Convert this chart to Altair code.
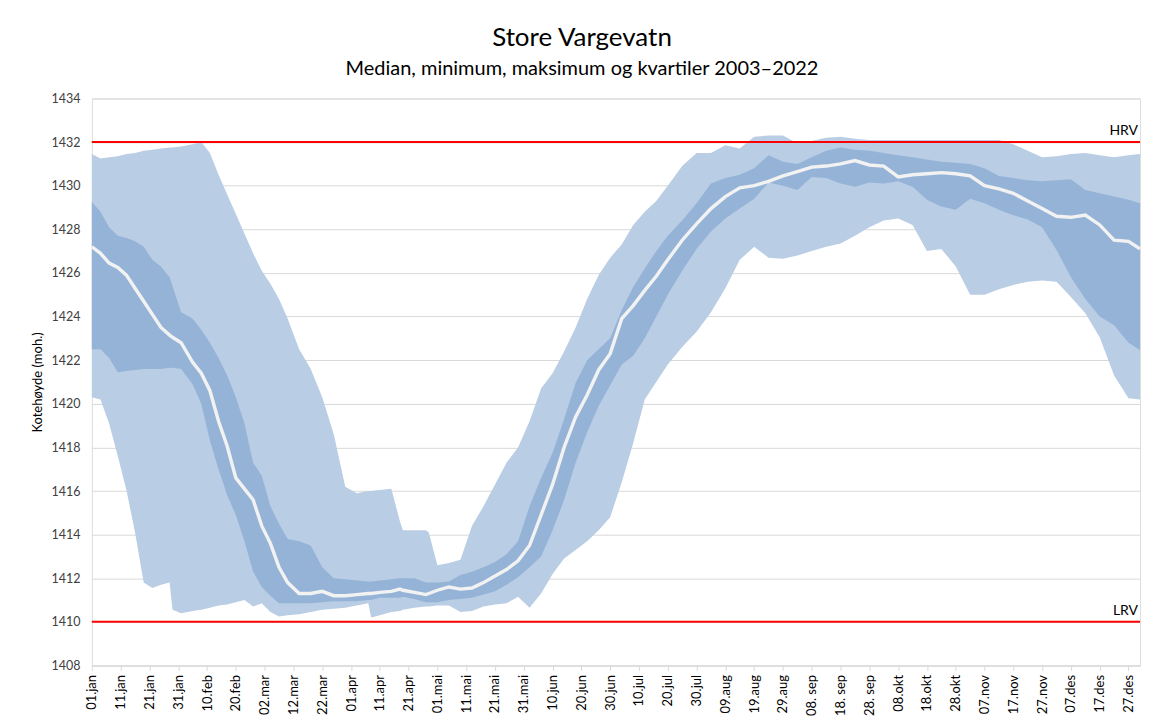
import altair as alt
import pandas as pd

DAYS = [0, 3, 6, 9, 12, 15, 18, 21, 24, 27, 28, 31, 35, 38, 41, 44, 47, 50, 53, 56, 59, 62, 65, 68,
        72, 76, 80, 84, 88, 92, 96, 97, 100, 104, 107, 108, 112, 116, 117, 120, 124, 128, 132, 136,
        140, 144, 148, 152, 156, 160, 164, 168, 172, 176, 180, 184, 188, 192, 196, 200, 205, 210,
        215, 220, 225, 230, 235, 240, 245, 250, 255, 260, 265, 270, 275, 280, 285, 290, 295, 300,
        305, 310, 315, 320, 325, 330, 335, 340, 345, 350, 355, 360, 364]

MAX = [1431.45, 1431.25, 1431.3, 1431.35, 1431.45, 1431.5, 1431.6, 1431.65, 1431.7, 1431.75, 1431.75,
       1431.8, 1431.9, 1432.0, 1431.5, 1430.5, 1429.6, 1428.7, 1427.8, 1426.9, 1426.1, 1425.5, 1424.8,
       1423.9, 1422.5, 1421.6, 1420.3, 1418.6, 1416.2, 1415.9, 1416.0, 1416.0, 1416.05, 1416.1, 1414.6,
       1414.2, 1414.2, 1414.2, 1414.1, 1412.6, 1412.7, 1412.85, 1414.4, 1415.3, 1416.3, 1417.3, 1418.0,
       1419.2, 1420.7, 1421.4, 1422.4, 1423.5, 1424.8, 1425.9, 1426.7, 1427.3, 1428.2, 1428.8, 1429.3,
       1430.0, 1430.9, 1431.5, 1431.5, 1431.85, 1431.7, 1432.25, 1432.3, 1432.3, 1431.95, 1432.05,
       1432.2, 1432.25, 1432.15, 1432.1, 1432.1, 1432.1, 1432.1, 1432.1, 1432.1, 1432.1, 1432.1,
       1432.1, 1432.1, 1431.9, 1431.6, 1431.3, 1431.35, 1431.45, 1431.5, 1431.4, 1431.3, 1431.4, 1431.45]

Q3 = [1429.25, 1428.8, 1428.1, 1427.7, 1427.6, 1427.45, 1427.2, 1426.6, 1426.3, 1425.8, 1425.4,
      1424.2, 1423.9, 1423.4, 1422.8, 1422.1, 1421.3, 1420.3, 1419.1, 1417.3, 1416.7, 1415.3, 1414.5,
      1413.8, 1413.7, 1413.5, 1412.5, 1412.0, 1411.95, 1411.9, 1411.85, 1411.85, 1411.9, 1411.95,
      1412.0, 1412.0, 1412.0, 1411.8, 1411.8, 1411.8, 1411.85, 1412.15, 1412.3, 1412.5, 1412.75,
      1413.1, 1413.7, 1415.3, 1416.6, 1417.75, 1419.3, 1420.95, 1422.0, 1422.5, 1423.0, 1424.3,
      1425.35, 1426.2, 1427.0, 1427.7, 1428.4, 1429.2, 1430.1, 1430.35, 1430.5, 1430.8, 1431.4,
      1431.1, 1431.0, 1431.3, 1431.6, 1431.75, 1431.65, 1431.6, 1431.5, 1431.4, 1431.3, 1431.2,
      1431.1, 1431.05, 1431.0, 1430.8, 1430.45, 1430.35, 1430.25, 1430.2, 1430.25, 1430.3, 1429.8,
      1429.65, 1429.5, 1429.35, 1429.2]

MEDIAN = [1427.2, 1426.9, 1426.45, 1426.25, 1425.9, 1425.3, 1424.7, 1424.1, 1423.5, 1423.15, 1423.05,
          1422.8, 1421.9, 1421.4, 1420.6, 1419.2, 1418.05, 1416.6, 1416.1, 1415.6, 1414.4, 1413.6,
          1412.5, 1411.8, 1411.3, 1411.3, 1411.4, 1411.2, 1411.2, 1411.25, 1411.3, 1411.3, 1411.35,
          1411.4, 1411.5, 1411.45, 1411.35, 1411.25, 1411.3, 1411.45, 1411.6, 1411.5, 1411.55, 1411.8,
          1412.1, 1412.4, 1412.8, 1413.5, 1414.9, 1416.3, 1418.0, 1419.4, 1420.4, 1421.55, 1422.3,
          1423.9, 1424.5, 1425.2, 1425.85, 1426.6, 1427.5, 1428.25, 1428.95, 1429.5, 1429.9, 1430.0,
          1430.2, 1430.45, 1430.65, 1430.85, 1430.9, 1431.0, 1431.15, 1430.95, 1430.9, 1430.4, 1430.5,
          1430.55, 1430.6, 1430.55, 1430.45, 1430.0, 1429.85, 1429.65, 1429.3, 1428.95, 1428.6,
          1428.55, 1428.65, 1428.2, 1427.5, 1427.45, 1427.1]

Q1 = [1422.5, 1422.5, 1422.1, 1421.45, 1421.5, 1421.55, 1421.6, 1421.6, 1421.6, 1421.65, 1421.65,
      1421.6, 1420.9, 1420.0, 1418.3, 1417.0, 1415.8, 1414.9, 1413.7, 1412.3, 1411.6, 1411.2, 1410.85,
      1410.85, 1410.85, 1410.85, 1410.9, 1410.95, 1410.95, 1410.95, 1411.0, 1411.0, 1411.1, 1411.1,
      1411.1, 1411.15, 1411.05, 1410.9, 1410.9, 1410.9, 1411.0, 1411.05, 1411.1, 1411.25, 1411.4,
      1411.7, 1412.05, 1412.5, 1413.0, 1414.2, 1415.6, 1417.3, 1418.7, 1419.9, 1420.85, 1421.8,
      1422.2, 1423.0, 1424.0, 1425.0, 1426.1, 1427.1, 1427.9, 1428.5, 1428.95, 1429.4, 1430.15,
      1430.0, 1429.8, 1430.4, 1430.35, 1430.1, 1429.95, 1430.15, 1430.1, 1430.2, 1429.95, 1429.35,
      1429.05, 1428.9, 1429.4, 1429.2, 1428.9, 1428.65, 1428.45, 1428.1, 1427.05, 1425.8, 1424.8,
      1424.0, 1423.6, 1422.8, 1422.45]

MIN = [1420.3, 1420.2, 1419.1, 1417.6, 1416.05, 1414.1, 1411.8, 1411.55, 1411.7, 1411.8, 1410.55,
       1410.4, 1410.5, 1410.55, 1410.65, 1410.75, 1410.8, 1410.9, 1411.0, 1410.7, 1410.85, 1410.45,
       1410.25, 1410.3, 1410.35, 1410.45, 1410.55, 1410.6, 1410.65, 1410.75, 1410.85, 1410.2, 1410.3,
       1410.45, 1410.5, 1410.55, 1410.65, 1410.7, 1410.7, 1410.75, 1410.75, 1410.45, 1410.5, 1410.7,
       1410.8, 1410.85, 1411.15, 1410.65, 1411.3, 1412.2, 1412.9, 1413.3, 1413.7, 1414.2, 1414.8,
       1416.4, 1418.2, 1420.2, 1421.0, 1421.8, 1422.6, 1423.3, 1424.2, 1425.3, 1426.6, 1427.2, 1426.7,
       1426.65, 1426.8, 1427.0, 1427.2, 1427.35, 1427.7, 1428.1, 1428.4, 1428.5, 1428.2, 1427.0,
       1427.1, 1426.3, 1425.0, 1425.0, 1425.25, 1425.45, 1425.6, 1425.65, 1425.6, 1424.9, 1424.15,
       1423.05, 1421.3, 1420.25, 1420.2]

TICK_DAYS = list(range(0, 361, 10))
TICK_LABELS = ["01.jan", "11.jan", "21.jan", "31.jan", "10.feb", "20.feb", "02.mar", "12.mar",
               "22.mar", "01.apr", "11.apr", "21.apr", "01.mai", "11.mai", "21.mai", "31.mai",
               "10.jun", "20.jun", "30.jun", "10.jul", "20.jul", "30.jul", "09.aug", "19.aug",
               "29.aug", "08. sep", "18. sep", "28. sep", "08.okt", "18.okt", "28.okt", "07.nov",
               "17.nov", "27.nov", "07.des", "17.des", "27.des"]

LIMIT_NAMES = ["HRV", "LRV"]
LIMIT_VALUES = [1432, 1410]

Y_TICKS = list(range(1408, 1435, 2))

FONT = "Lato"
W, H = 1050, 568

df = pd.DataFrame({"day": DAYS, "max": MAX, "q3": Q3, "median": MEDIAN, "q1": Q1, "min": MIN})
limits = pd.DataFrame({"name": LIMIT_NAMES, "value": LIMIT_VALUES})

label_js = "[" + ",".join("'" + t + "'" for t in TICK_LABELS) + "][round(datum.value/10)]"

x_scale = alt.Scale(domain=[0, 364], nice=False, zero=False)
x_axis = alt.Axis(values=TICK_DAYS, labelExpr=label_js, title=None, grid=False,
                  labelAngle=-90, labelFontSize=13, labelColor="#000000", labelFont=FONT,
                  domainColor="#d9d9d9", tickColor="#d9d9d9", tickSize=5,
                  labelPadding=4, labelOverlap=False, labelFlush=False, labelBound=False,
                  labelSeparation=0)
x_enc = alt.X("day:Q", scale=x_scale, axis=x_axis)
y_scale = alt.Scale(domain=[1408, 1434], nice=False, zero=False)
y_axis = alt.Axis(values=Y_TICKS, format="d", title="Kotehøyde (moh.)", titleFont=FONT,
                  titleFontSize=13, titleFontWeight="normal", titleColor="#000000", titlePadding=6,
                  labelFont=FONT, labelFontSize=12.5, labelColor="#404040", labelPadding=12,
                  grid=True, gridColor="#d9d9d9", gridWidth=1, domain=False, ticks=False)

base = alt.Chart(df)

outer = base.mark_area(color="#b9cde5", opacity=1).encode(
    x=x_enc, y=alt.Y("min:Q", scale=y_scale, axis=y_axis), y2="max:Q")
inner = base.mark_area(color="#95b3d7", opacity=1).encode(
    x=x_enc, y=alt.Y("q1:Q", scale=y_scale, axis=y_axis), y2="q3:Q")
med = base.mark_line(color="#f2f2f2", strokeWidth=3.4).encode(
    x=x_enc, y=alt.Y("median:Q", scale=y_scale, axis=y_axis))

rules = alt.Chart(limits).mark_rule(color="#ff0000", strokeWidth=2).encode(
    y=alt.Y("value:Q", scale=y_scale, axis=y_axis))
texts = alt.Chart(limits).mark_text(align="right", baseline="bottom", dy=-4, font=FONT,
                                    fontSize=14, color="#000000").encode(
    y=alt.Y("value:Q", scale=y_scale, axis=y_axis), x=alt.value(W - 2), text="name:N")

chart = alt.layer(outer, inner, med, rules, texts).properties(
    width=W, height=H,
    title=alt.TitleParams("Store Vargevatn",
                          subtitle="Median, minimum, maksimum og kvartiler 2003–2022",
                          font=FONT, fontSize=26, fontWeight="normal", color="#000000",
                          subtitleFont=FONT, subtitleFontSize=20, subtitleColor="#000000",
                          subtitlePadding=8, offset=14, anchor="middle", dx=-34),
    autosize=alt.AutoSizeParams(type="none"),
    padding={"left": 84, "top": 90, "right": 20, "bottom": 54},
).configure_view(stroke=None).configure(background="white").configure_axisX(
    labelOverlap=False, labelSeparation=0)

chart.save("out.html", embed_options={"renderer": "svg", "actions": False})
